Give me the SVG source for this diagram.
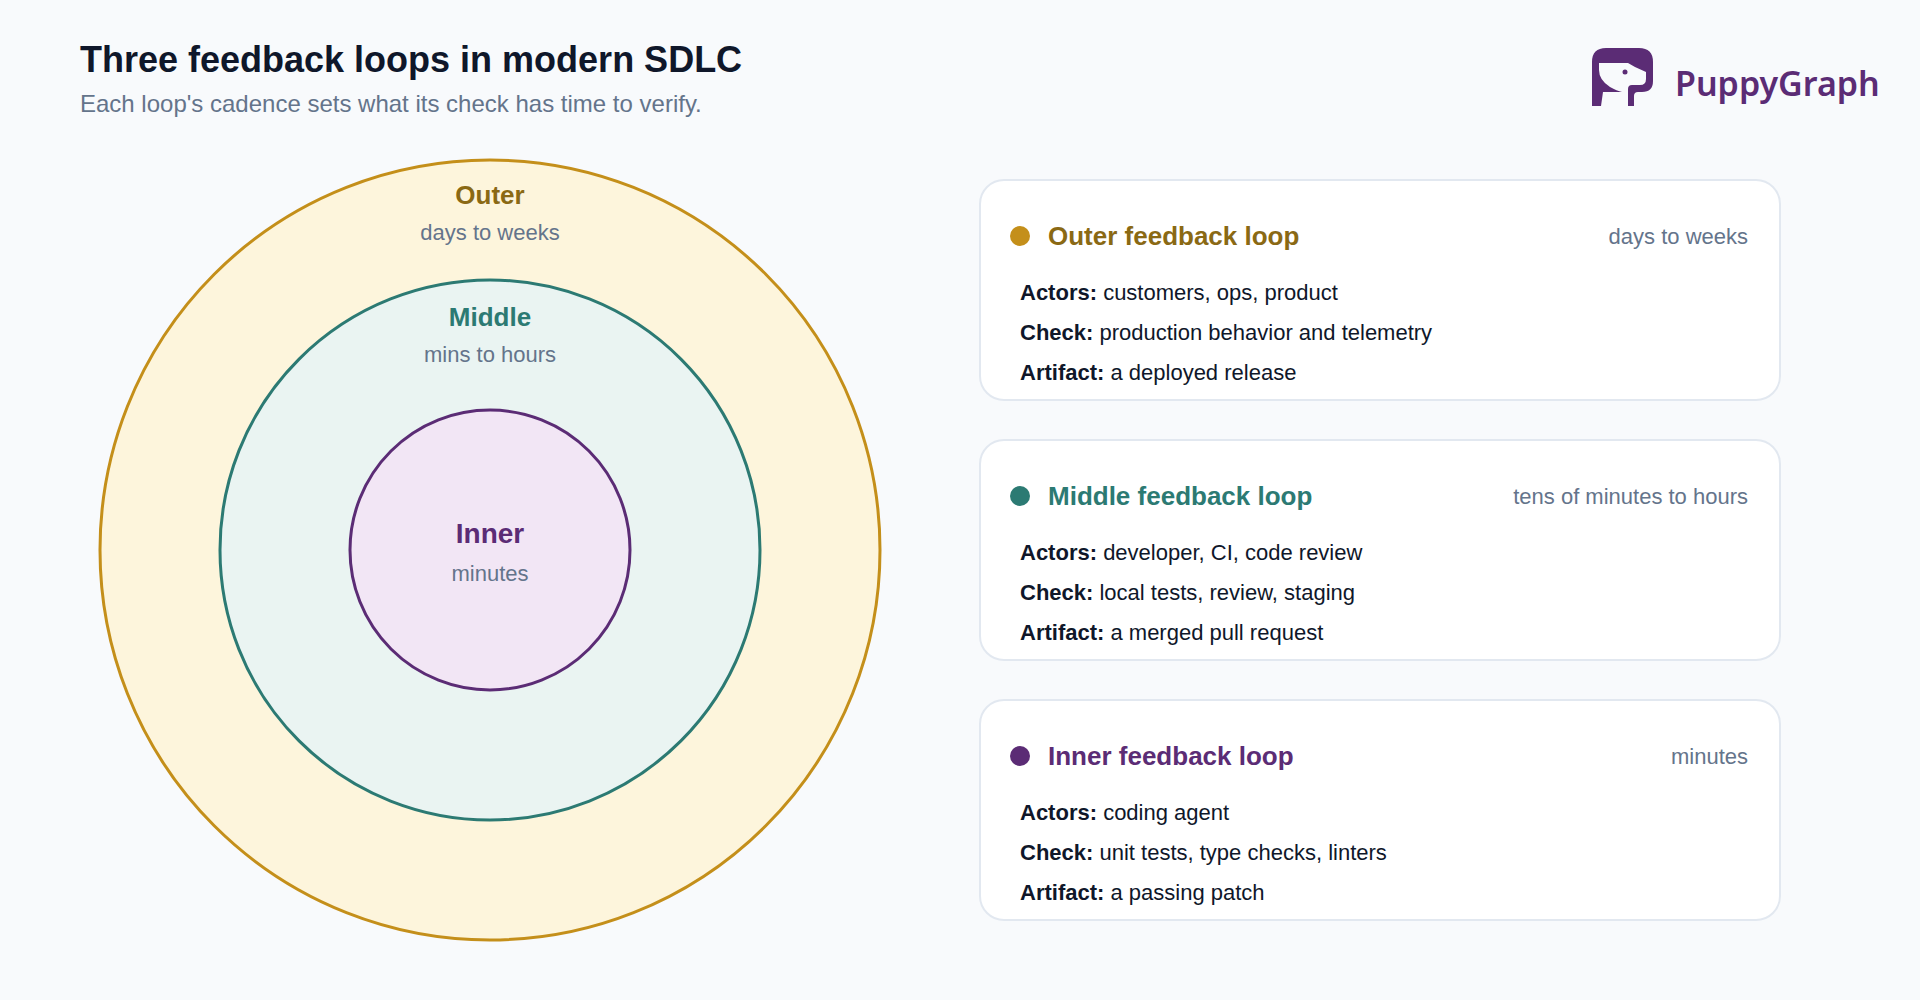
<svg xmlns="http://www.w3.org/2000/svg" width="1920" height="1000" viewBox="0 0 1920 1000">
<style>
text{font-family:"Liberation Sans",Arial,sans-serif}
.ring{stroke-width:3}
.rt{font-weight:700;text-anchor:middle}
.rs{font-size:22px;fill:#64748b;text-anchor:middle}
.card{fill:#fff;stroke:#e2e8f0;stroke-width:2}
.ct{font-size:26px;font-weight:700}
.cr{font-size:22px;fill:#64748b;text-anchor:end}
.ln{font-size:22px;fill:#0f172a}
.ln tspan{font-weight:700}
</style>
<rect width="1920" height="1000" fill="#f8fafc"/>
<g id="header">
<text x="80" y="72" font-size="36" font-weight="700" fill="#0f172a">Three feedback loops in modern SDLC</text>
<text x="80" y="112" font-size="24" fill="#64748b">Each loop's cadence sets what its check has time to verify.</text>
</g>
<g id="logo">
<path fill="#5b2c75" fill-rule="evenodd" d="M1606 48H1639Q1653 48 1653 62V81Q1653 92 1642 92H1638Q1634 92 1634 96V106H1628V89Q1628 85 1632 85H1640Q1646 85 1646 79V72L1635 67 1628 63H1599Q1599 63 1599 63V70Q1599 80 1610 87 1617 91 1622 92L1619 92H1603L1601 106H1592V62Q1592 48 1606 48Z"/>
<circle cx="1625" cy="72" r="2.5" fill="#5b2c75"/>
<text x="1675" y="96" font-size="34" font-weight="600" fill="#5b2c75" style="font-family:'Noto Sans',sans-serif">PuppyGraph</text>
</g>
<g id="ring-outer">
<circle class="ring" cx="490" cy="550" r="390" fill="#fdf5dc" stroke="#c48f1a"/>
<text class="rt" x="490" y="204" font-size="26" fill="#8a6914">Outer</text>
<text class="rs" x="490" y="240">days to weeks</text>
</g>
<g id="ring-middle">
<circle class="ring" cx="490" cy="550" r="270" fill="#eaf4f2" stroke="#2c7a73"/>
<text class="rt" x="490" y="326" font-size="26" fill="#2c7a73">Middle</text>
<text class="rs" x="490" y="362">mins to hours</text>
</g>
<g id="ring-inner">
<circle class="ring" cx="490" cy="550" r="140" fill="#f2e6f5" stroke="#5b2c75"/>
<text class="rt" x="490" y="543" font-size="28" fill="#5b2c75">Inner</text>
<text class="rs" x="490" y="581">minutes</text>
</g>
<g id="card-outer">
<rect class="card" x="980" y="180" width="800" height="220" rx="24"/>
<circle cx="1020" cy="236" r="10" fill="#c48f1a"/>
<text class="ct" x="1048" y="245" fill="#8a6914">Outer feedback loop</text>
<text class="cr" x="1748" y="244">days to weeks</text>
<text class="ln" x="1020" y="300"><tspan>Actors:</tspan> customers, ops, product</text>
<text class="ln" x="1020" y="340"><tspan>Check:</tspan> production behavior and telemetry</text>
<text class="ln" x="1020" y="380"><tspan>Artifact:</tspan> a deployed release</text>
</g>
<g id="card-middle">
<rect class="card" x="980" y="440" width="800" height="220" rx="24"/>
<circle cx="1020" cy="496" r="10" fill="#2c7a73"/>
<text class="ct" x="1048" y="505" fill="#2c7a73">Middle feedback loop</text>
<text class="cr" x="1748" y="504">tens of minutes to hours</text>
<text class="ln" x="1020" y="560"><tspan>Actors:</tspan> developer, CI, code review</text>
<text class="ln" x="1020" y="600"><tspan>Check:</tspan> local tests, review, staging</text>
<text class="ln" x="1020" y="640"><tspan>Artifact:</tspan> a merged pull request</text>
</g>
<g id="card-inner">
<rect class="card" x="980" y="700" width="800" height="220" rx="24"/>
<circle cx="1020" cy="756" r="10" fill="#5b2c75"/>
<text class="ct" x="1048" y="765" fill="#5b2c75">Inner feedback loop</text>
<text class="cr" x="1748" y="764">minutes</text>
<text class="ln" x="1020" y="820"><tspan>Actors:</tspan> coding agent</text>
<text class="ln" x="1020" y="860"><tspan>Check:</tspan> unit tests, type checks, linters</text>
<text class="ln" x="1020" y="900"><tspan>Artifact:</tspan> a passing patch</text>
</g>
</svg>
